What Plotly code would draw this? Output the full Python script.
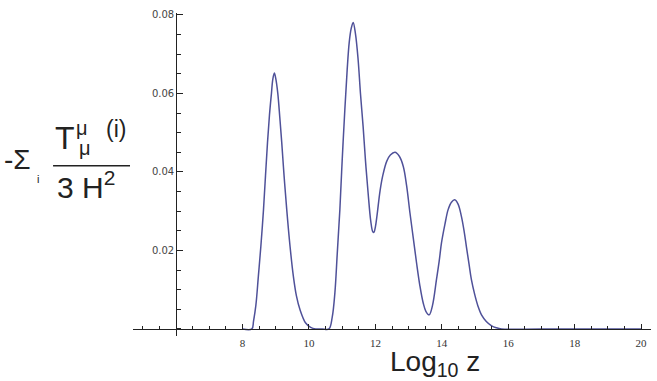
import plotly.graph_objects as go

# ---- data ----
log10_z = [8.0, 8.28, 8.33, 8.40, 8.475, 8.55, 8.63, 8.69, 8.75, 8.81, 8.87, 8.91,
           8.957, 9.0, 9.06, 9.12, 9.18, 9.25, 9.33, 9.43, 9.53, 9.62, 9.73, 9.90,
           10.05, 10.2, 10.4, 10.6, 10.70, 10.78, 10.85, 10.93, 11.0, 11.08, 11.15,
           11.21, 11.27, 11.33, 11.40, 11.48, 11.55, 11.63, 11.70, 11.78, 11.86,
           11.92, 11.955, 12.0, 12.05, 12.14, 12.22, 12.34, 12.45, 12.59, 12.72,
           12.84, 12.94, 13.04, 13.14, 13.24, 13.34, 13.44, 13.52, 13.62, 13.72,
           13.84, 13.92, 13.99, 14.09, 14.19, 14.29, 14.39, 14.49, 14.59, 14.67,
           14.74, 14.82, 14.89, 14.99, 15.09, 15.2, 15.34, 15.5, 15.64, 15.8, 17.0,
           20.0]
energy = [0.0, 0.0, 0.002, 0.006, 0.0134, 0.021, 0.0304, 0.039, 0.0474, 0.0545,
          0.0601, 0.0636, 0.0652, 0.0638, 0.0601, 0.054, 0.0474, 0.039, 0.0304,
          0.021, 0.0134, 0.0085, 0.0049, 0.0015, 0.0004, 0.0, 0.0, 0.0, 0.003,
          0.0092, 0.019, 0.0304, 0.043, 0.0559, 0.066, 0.0729, 0.0765, 0.0781,
          0.0752, 0.0686, 0.060, 0.0516, 0.043, 0.0347, 0.0275, 0.0248, 0.0246,
          0.026, 0.029, 0.0352, 0.0390, 0.0427, 0.0443, 0.0450, 0.0440, 0.0414,
          0.0365, 0.0296, 0.0232, 0.0168, 0.0110, 0.0066, 0.0045, 0.0036, 0.0060,
          0.0126, 0.0172, 0.0219, 0.0265, 0.0304, 0.0323, 0.0329, 0.0318, 0.0287,
          0.0250, 0.0210, 0.0165, 0.0126, 0.0088, 0.0058, 0.0035, 0.0019, 0.0008,
          0.0003, 0.0, 0.0, 0.0]
x_tickvals = [8, 10, 12, 14, 16, 18, 20]
x_ticktext = ["8", "10", "12", "14", "16", "18", "20"]
y_tickvals = [0.02, 0.04, 0.06, 0.08]
y_ticktext = ["0.02", "0.04", "0.06", "0.08"]

# ---- layout constants ----
W, H = 657, 381
ML, MR, MT, MB = 133, 5.6, 13.3, 44.6
X_RANGE = [4.7, 20.3]
Y_RANGE = [-0.0018, 0.0805]
X_ORIGIN = 6.0   # where the vertical axis crosses
Y_ORIGIN = 0.0   # where the horizontal axis crosses


def px(x):
    return (x - ML) / (W - ML - MR)


def py(y):
    return 1 - (y - MT) / (H - MT - MB)


fig = go.Figure()
fig.add_trace(go.Scatter(
    x=log10_z, y=energy, mode="lines",
    line=dict(color="#4f5199", width=1.5, shape="spline", smoothing=1.0),
    hoverinfo="skip", showlegend=False,
))

axis_col = "#222222"
fig.update_layout(
    width=W, height=H,
    margin=dict(l=ML, r=MR, t=MT, b=MB, pad=0),
    paper_bgcolor="white", plot_bgcolor="white",
    showlegend=False,
    xaxis=dict(
        range=X_RANGE, showgrid=False, zeroline=False,
        showline=True, linecolor=axis_col, linewidth=1,
        anchor="free",
        position=(Y_ORIGIN - Y_RANGE[0]) / (Y_RANGE[1] - Y_RANGE[0]),
        tickmode="array", tickvals=x_tickvals, ticktext=x_ticktext,
        ticks="inside", ticklen=5, tickwidth=1, tickcolor=axis_col,
        tickfont=dict(family="Liberation Serif", size=11, color="#333333"),
        ticklabelstandoff=4,
        minor=dict(tickmode="linear", tick0=0, dtick=0.5, ticks="inside",
                   ticklen=3, tickwidth=1, tickcolor=axis_col, showgrid=False),
    ),
    yaxis=dict(
        range=Y_RANGE, showgrid=False, zeroline=False,
        showline=True, linecolor=axis_col, linewidth=1,
        anchor="free",
        position=(X_ORIGIN - X_RANGE[0]) / (X_RANGE[1] - X_RANGE[0]),
        tickmode="array", tickvals=y_tickvals, ticktext=y_ticktext,
        ticks="inside", ticklen=6, tickwidth=1, tickcolor=axis_col,
        tickfont=dict(family="DejaVu Sans", size=10, color="#444444"),
        minor=dict(tickmode="linear", tick0=0, dtick=0.005, ticks="inside",
                   ticklen=4, tickwidth=1, tickcolor=axis_col, showgrid=False),
    ),
)

font_main = "Liberation Sans"
tc = "#222222"


def ann(text, x, y, size, xanchor="center", yanchor="middle"):
    fig.add_annotation(text=text, x=px(x), y=py(y), xref="paper", yref="paper",
                       xanchor=xanchor, yanchor=yanchor, showarrow=False,
                       font=dict(family=font_main, size=size, color=tc))


# x-axis title
ann("Log<sub>10</sub> z", 435, 364, 28)

# y-axis title:  - Σ_i  T^{μ (i)}_μ / (3 H^2)
ann("-Σ", 17.5, 160, 28)
ann("i", 38, 179, 11)
ann("T", 65, 138.5, 32)
ann("μ", 82, 128, 20)
ann("(i)", 116, 129, 23)
ann("μ", 85, 148, 20)
ann("3 H<sup>2</sup>", 86, 185, 30)
fig.add_shape(type="line", xref="paper", yref="paper",
              x0=px(53), x1=px(130), y0=py(166), y1=py(166),
              line=dict(color=tc, width=1.5))

fig.write_html("out.html")
